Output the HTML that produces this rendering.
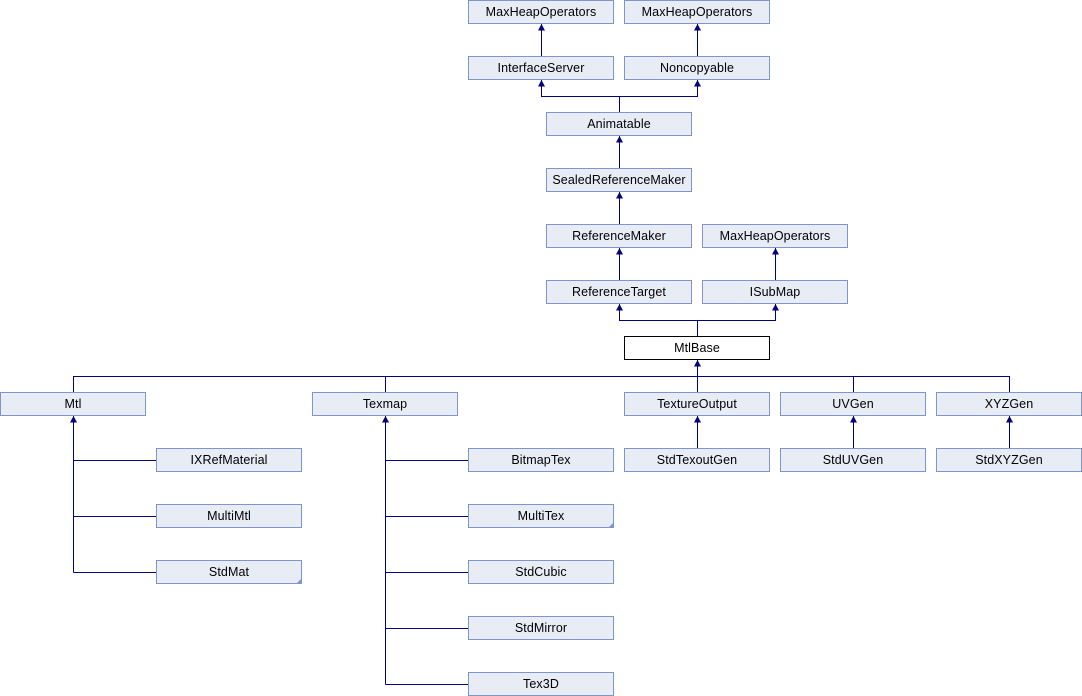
<!DOCTYPE html>
<html><head><meta charset="utf-8"><style>
html,body{margin:0;padding:0;background:#fff;}
svg{display:block;}
text{font-family:"Liberation Sans",Arial,sans-serif;font-size:12.5px;letter-spacing:0.1px;fill:#000;}
</style></head><body>
<svg width="1082" height="696" viewBox="0 0 1082 696" xmlns="http://www.w3.org/2000/svg">
<g stroke="#000080" stroke-width="1" fill="none">
<!-- top -->
<path d="M541.5 24V56M697.5 24V56"/>
<path d="M541.5 79V96.5H697.5V79M619.5 96.5V112"/>
<path d="M619.5 136V168M619.5 192V224M619.5 248V280M775.5 248V280"/>
<path d="M619.5 304V320.5H775.5V304M697.5 320.5V336"/>
<path d="M697.5 360V392M73.5 392V376.5H1009.5V392M385.5 376.5V392M853.5 376.5V392"/>
<!-- Mtl children -->
<path d="M73.5 416V572.5M73.5 460.5H156M73.5 516.5H156M73.5 572.5H156"/>
<!-- Texmap children -->
<path d="M385.5 416V684.5M385.5 460.5H468M385.5 516.5H468M385.5 572.5H468M385.5 628.5H468M385.5 684.5H468"/>
<path d="M697.5 416V448M853.5 416V448M1009.5 416V448"/>
</g>
<g fill="#000080">
<path d="M541.5 24L538 30.5H545Z"/>
<path d="M697.5 24L694 30.5H701Z"/>
<path d="M541.5 80L538 86.5H545Z"/>
<path d="M697.5 80L694 86.5H701Z"/>
<path d="M619.5 136L616 142.5H623Z"/>
<path d="M619.5 192L616 198.5H623Z"/>
<path d="M619.5 248L616 254.5H623Z"/>
<path d="M775.5 248L772 254.5H779Z"/>
<path d="M619.5 304L616 310.5H623Z"/>
<path d="M775.5 304L772 310.5H779Z"/>
<path d="M697.5 360L694 366.5H701Z"/>
<path d="M73.5 416L70 422.5H77Z"/>
<path d="M385.5 416L382 422.5H389Z"/>
<path d="M697.5 416L694 422.5H701Z"/>
<path d="M853.5 416L850 422.5H857Z"/>
<path d="M1009.5 416L1006 422.5H1013Z"/>
</g>
<g fill="#e8ecf5" stroke="#7e96cb" stroke-width="1">
<rect x="468.5" y="0.5" width="145" height="23"/>
<rect x="624.5" y="0.5" width="145" height="23"/>
<rect x="468.5" y="56.5" width="145" height="23"/>
<rect x="624.5" y="56.5" width="145" height="23"/>
<rect x="546.5" y="112.5" width="145" height="23"/>
<rect x="546.5" y="168.5" width="145" height="23"/>
<rect x="546.5" y="224.5" width="145" height="23"/>
<rect x="702.5" y="224.5" width="145" height="23"/>
<rect x="546.5" y="280.5" width="145" height="23"/>
<rect x="702.5" y="280.5" width="145" height="23"/>
<rect x="0.5" y="392.5" width="145" height="23"/>
<rect x="312.5" y="392.5" width="145" height="23"/>
<rect x="624.5" y="392.5" width="145" height="23"/>
<rect x="780.5" y="392.5" width="145" height="23"/>
<rect x="936.5" y="392.5" width="145" height="23"/>
<rect x="156.5" y="448.5" width="145" height="23"/>
<rect x="468.5" y="448.5" width="145" height="23"/>
<rect x="624.5" y="448.5" width="145" height="23"/>
<rect x="780.5" y="448.5" width="145" height="23"/>
<rect x="936.5" y="448.5" width="145" height="23"/>
<rect x="156.5" y="504.5" width="145" height="23"/>
<rect x="468.5" y="504.5" width="145" height="23"/>
<rect x="156.5" y="560.5" width="145" height="23"/>
<rect x="468.5" y="560.5" width="145" height="23"/>
<rect x="468.5" y="616.5" width="145" height="23"/>
<rect x="468.5" y="672.5" width="145" height="23"/>
</g>
<rect x="624.5" y="336.5" width="145" height="23" fill="#fff" stroke="#000" stroke-width="1"/>
<g fill="#7e96cb">
<path d="M302 578V584H296Z"/>
<path d="M614 522V528H608Z"/>
</g>
<g text-anchor="middle">
<text x="541" y="16">MaxHeapOperators</text>
<text x="697" y="16">MaxHeapOperators</text>
<text x="541" y="72">InterfaceServer</text>
<text x="697" y="72">Noncopyable</text>
<text x="619" y="128">Animatable</text>
<text x="619" y="184">SealedReferenceMaker</text>
<text x="619" y="240">ReferenceMaker</text>
<text x="775" y="240">MaxHeapOperators</text>
<text x="619" y="296">ReferenceTarget</text>
<text x="775" y="296">ISubMap</text>
<text x="697" y="352">MtlBase</text>
<text x="73" y="408">Mtl</text>
<text x="385" y="408">Texmap</text>
<text x="697" y="408">TextureOutput</text>
<text x="853" y="408">UVGen</text>
<text x="1009" y="408">XYZGen</text>
<text x="229" y="464">IXRefMaterial</text>
<text x="541" y="464">BitmapTex</text>
<text x="697" y="464">StdTexoutGen</text>
<text x="853" y="464">StdUVGen</text>
<text x="1009" y="464">StdXYZGen</text>
<text x="229" y="520">MultiMtl</text>
<text x="541" y="520">MultiTex</text>
<text x="229" y="576">StdMat</text>
<text x="541" y="576">StdCubic</text>
<text x="541" y="632">StdMirror</text>
<text x="541" y="688">Tex3D</text>
</g>
</svg>
</body></html>
